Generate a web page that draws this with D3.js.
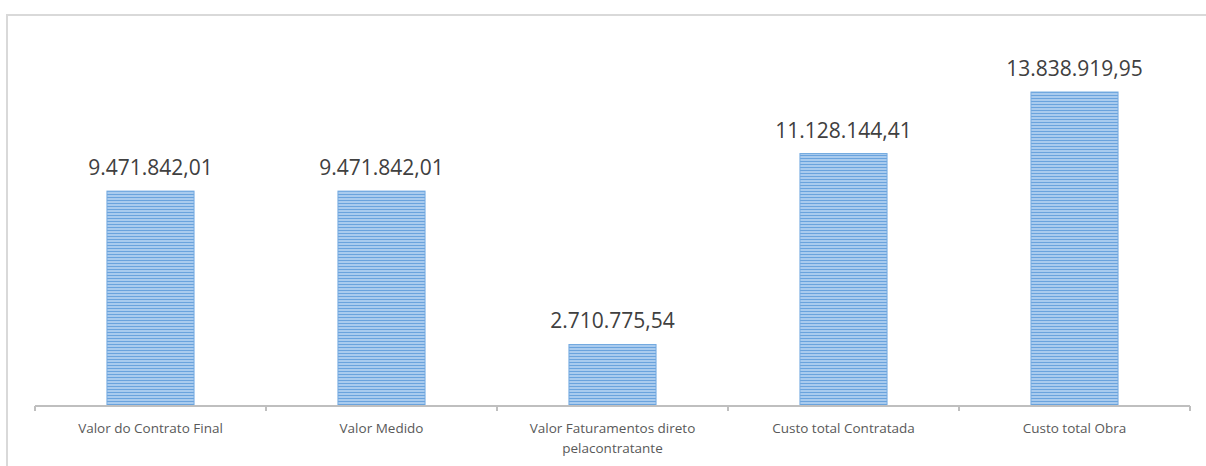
<!DOCTYPE html>
<html>
<head>
<meta charset="utf-8">
<script src="https://cdn.jsdelivr.net/npm/d3@7"></script>
<style>
  body { margin: 0; background: #fff; }
  svg { display: block; }
</style>
</head>
<body>
<svg id="chart" width="1206" height="466"></svg>
<script>
// values
var categories = [
  ["Valor do Contrato Final"],
  ["Valor Medido"],
  ["Valor Faturamentos direto", "pelacontratante"],
  ["Custo total Contratada"],
  ["Custo total Obra"]
];
var values = [9471842.01, 9471842.01, 2710775.54, 11128144.41, 13838919.95];
var yMax = 16000000;

var svg = d3.select("#chart");
var W = 1206, H = 466;
var margin = {left: 35, right: 16, top: 43, bottom: 60};
var plotW = W - margin.left - margin.right;
var baseY = 406;

var fmt = d3.formatLocale({decimal: ",", thousands: ".", grouping: [3], currency: ["", ""]}).format(",.2f");

// outer chart frame
svg.append("rect")
  .attr("x", 7).attr("y", 15)
  .attr("width", 1220).attr("height", 500)
  .attr("fill", "none")
  .attr("stroke", "#d9d9d9")
  .attr("stroke-width", 2);

// striped fill
var defs = svg.append("defs");
var pat = defs.append("pattern")
  .attr("id", "stripes")
  .attr("patternUnits", "userSpaceOnUse")
  .attr("width", 6).attr("height", 3);
pat.append("rect").attr("width", 6).attr("height", 3).attr("fill", "#a9cbee");
pat.append("rect").attr("y", 2).attr("width", 6).attr("height", 1).attr("fill", "#6aa3dd");

var x = d3.scaleBand()
  .domain(d3.range(categories.length))
  .range([margin.left, margin.left + plotW])
  .paddingInner(0.623)
  .paddingOuter(0.3115);

var y = d3.scaleLinear()
  .domain([0, yMax])
  .range([baseY, margin.top]);

var g = svg.append("g");

g.selectAll("rect.bar")
  .data(values)
  .enter().append("rect")
  .attr("class", "bar")
  .attr("x", function(d, i) { return x(i); })
  .attr("y", function(d) { return y(d); })
  .attr("width", x.bandwidth())
  .attr("height", function(d) { return baseY - y(d); })
  .attr("fill", "url(#stripes)")
  .attr("stroke", "#74aae0")
  .attr("stroke-width", 1);

g.selectAll("text.val")
  .data(values)
  .enter().append("text")
  .attr("class", "val")
  .attr("x", function(d, i) { return x(i) + x.bandwidth() / 2; })
  .attr("y", function(d) { return y(d) - 16; })
  .attr("text-anchor", "middle")
  .attr("font-family", "'Open Sans', 'Liberation Sans', sans-serif")
  .attr("font-size", "21px")
  .attr("fill", "#404040")
  .text(function(d) { return fmt(d); });

// category axis
var step = plotW / categories.length;
g.append("line")
  .attr("x1", margin.left).attr("x2", margin.left + plotW)
  .attr("y1", baseY).attr("y2", baseY)
  .attr("stroke", "#bfbfbf").attr("stroke-width", 2);

g.selectAll("line.tick")
  .data(d3.range(categories.length + 1))
  .enter().append("line")
  .attr("class", "tick")
  .attr("x1", function(i) { return margin.left + i * step; })
  .attr("x2", function(i) { return margin.left + i * step; })
  .attr("y1", baseY).attr("y2", baseY + 5)
  .attr("stroke", "#bfbfbf").attr("stroke-width", 2);

var labels = g.selectAll("text.cat")
  .data(categories)
  .enter().append("text")
  .attr("class", "cat")
  .attr("x", function(d, i) { return x(i) + x.bandwidth() / 2; })
  .attr("y", 433)
  .attr("text-anchor", "middle")
  .attr("font-family", "'Open Sans', 'Liberation Sans', sans-serif")
  .attr("font-size", "13.5px")
  .attr("fill", "#595959");

labels.selectAll("tspan")
  .data(function(d) { return d; })
  .enter().append("tspan")
  .attr("x", function() { return d3.select(this.parentNode).attr("x"); })
  .attr("dy", function(d, i) { return i === 0 ? 0 : 20; })
  .text(function(d) { return d; });
</script>
</body>
</html>
